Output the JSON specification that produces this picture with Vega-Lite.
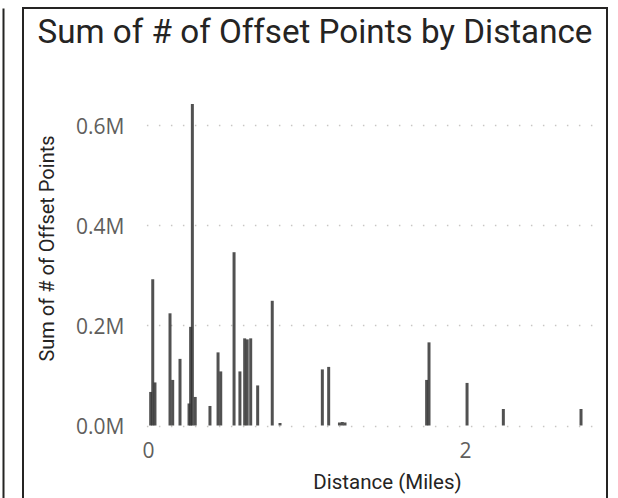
{
  "$schema": "https://vega.github.io/schema/vega-lite/v6.json",
  "autosize": "none",
  "padding": {"left": 23, "top": 8, "right": 11, "bottom": 0},
  "width": 584,
  "height": 500,
  "background": "white",
  "view": {"stroke": "#252423", "strokeWidth": 2},
  "data": {
    "values": [
      {"distance": 0.017, "points": 67000},
      {"distance": 0.030, "points": 292000},
      {"distance": 0.044, "points": 86000},
      {"distance": 0.139, "points": 224000},
      {"distance": 0.156, "points": 91000},
      {"distance": 0.202, "points": 133000},
      {"distance": 0.259, "points": 44000},
      {"distance": 0.269, "points": 197000},
      {"distance": 0.280, "points": 642000},
      {"distance": 0.298, "points": 57000},
      {"distance": 0.391, "points": 39000},
      {"distance": 0.442, "points": 146000},
      {"distance": 0.459, "points": 108000},
      {"distance": 0.543, "points": 346000},
      {"distance": 0.580, "points": 108000},
      {"distance": 0.610, "points": 174000},
      {"distance": 0.626, "points": 172000},
      {"distance": 0.648, "points": 174000},
      {"distance": 0.692, "points": 80000},
      {"distance": 0.784, "points": 249000},
      {"distance": 0.833, "points": 5000},
      {"distance": 1.100, "points": 112000},
      {"distance": 1.140, "points": 117000},
      {"distance": 1.208, "points": 6000},
      {"distance": 1.226, "points": 7000},
      {"distance": 1.243, "points": 6000},
      {"distance": 1.758, "points": 91000},
      {"distance": 1.773, "points": 166000},
      {"distance": 2.013, "points": 85000},
      {"distance": 2.242, "points": 33000},
      {"distance": 2.732, "points": 33000}
    ]
  },
  "layer": [
    {
      "mark": {"type": "bar", "orient": "vertical", "size": 3, "color": "#333333", "opacity": 0.85},
      "encoding": {
        "x": {
          "field": "distance",
          "type": "quantitative",
          "scale": {"domain": [-0.01, 2.86], "range": [123.4, 578.3], "nice": false, "zero": false, "padding": 0},
          "axis": {
            "orient": "bottom",
            "values": [0, 2],
            "format": "d",
            "grid": false,
            "domain": false,
            "ticks": false,
            "tickSize": 0,
            "labelFlush": false,
            "offset": -82,
            "labelPadding": 14,
            "labelFont": "Open Sans",
            "labelFontSize": 21,
            "labelColor": "#605E5C",
            "title": "Distance (Miles)",
            "titleFont": "Roboto",
            "titleFontSize": 20.5,
            "titleFontWeight": "normal",
            "titleColor": "#252423",
            "titleX": 364,
            "titleY": 62,
            "titleAlign": "center",
            "titleBaseline": "alphabetic"
          }
        },
        "y": {
          "field": "points",
          "type": "quantitative",
          "scale": {"domain": [0, 600000], "range": [417.5, 117], "nice": false, "padding": 0},
          "axis": {
            "orient": "left",
            "values": [0, 200000, 400000, 600000],
            "labelExpr": "format(datum.value / 1000000, '.1f') + 'M'",
            "grid": true,
            "gridColor": "#C8C6C4",
            "gridDash": [1.5, 10.5],
            "gridWidth": 1.5,
            "domain": false,
            "ticks": false,
            "tickSize": 0,
            "offset": -101,
            "labelPadding": 0,
            "labelOffset": 2,
            "labelFont": "Open Sans",
            "labelFontSize": 21,
            "labelColor": "#605E5C",
            "title": "Sum of # of Offset Points",
            "titleFont": "Roboto",
            "titleFontSize": 20,
            "titleFontWeight": "normal",
            "titleColor": "#252423",
            "titleX": -77,
            "titleY": 240,
            "titleAngle": -90,
            "titleAlign": "center",
            "titleBaseline": "middle"
          }
        }
      }
    },
    {
      "mark": {"type": "bar", "orient": "vertical", "size": 3, "opacity": 0},
      "encoding": {
        "x": {
          "field": "distance",
          "type": "quantitative",
          "axis": {
            "orient": "top",
            "labels": false,
            "ticks": false,
            "tickSize": 0,
            "domain": false,
            "grid": false,
            "title": "Sum of # of Offset Points by Distance",
            "titleFont": "Roboto",
            "titleFontSize": 33.2,
            "titleFontWeight": "normal",
            "titleColor": "#252423",
            "titleX": 14,
            "titleY": 34,
            "titleAlign": "left",
            "titleBaseline": "alphabetic",
            "titleAngle": 0
          }
        },
        "y": {
          "field": "points",
          "type": "quantitative",
          "scale": {"domain": [0, 1], "nice": false},
          "axis": {
            "orient": "left",
            "offset": 20,
            "labels": false,
            "ticks": false,
            "tickSize": 0,
            "grid": false,
            "title": null,
            "domain": true,
            "domainColor": "#252423",
            "domainWidth": 2
          }
        }
      }
    }
  ],
  "resolve": {
    "scale": {"y": "independent"},
    "axis": {"x": "independent", "y": "independent"}
  }
}
